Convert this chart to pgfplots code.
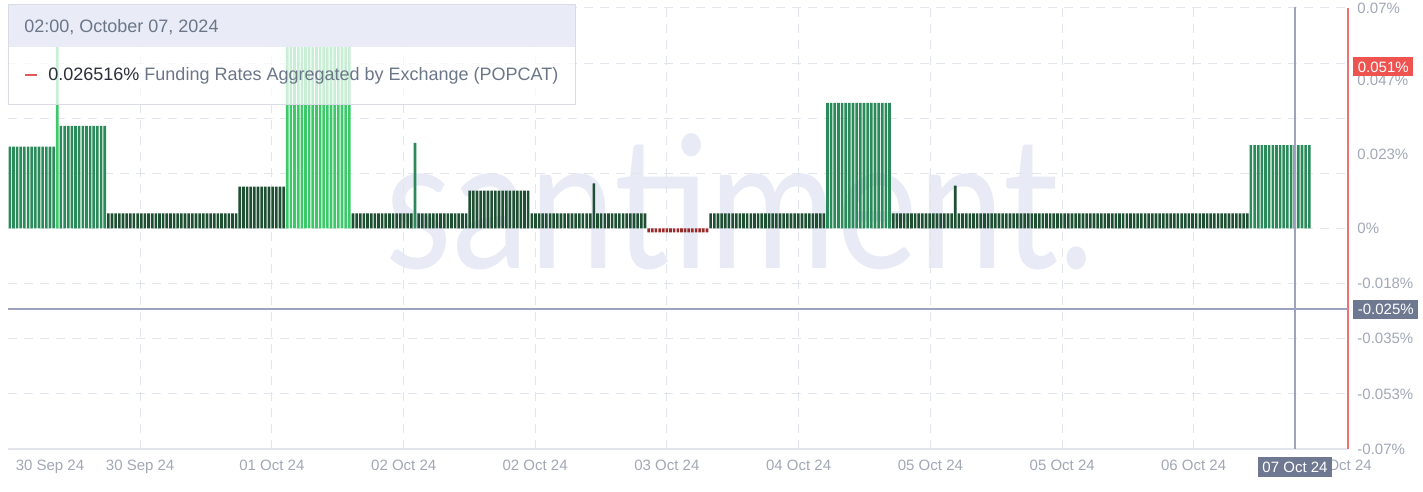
\documentclass[border=0pt]{standalone}
\usepackage{fontspec}
\setmainfont{Liberation Sans}
\newfontfamily\wmfont{Lato}
\usepackage{pgfplots}
\pgfplotsset{compat=1.18}

\definecolor{gdark}{HTML}{1E4F33}
\definecolor{gmid}{HTML}{2A8A5A}
\definecolor{glight}{HTML}{3DC86A}
\definecolor{rneg}{HTML}{9A2A2A}
\definecolor{gridc}{HTML}{E3E5EC}
\definecolor{labc}{HTML}{A2A8B6}
\definecolor{hair}{HTML}{9DA3BF}
\definecolor{tagc}{HTML}{6E7891}
\definecolor{redax}{HTML}{EE7070}
\definecolor{redtag}{HTML}{EF5350}
\definecolor{wmark}{HTML}{E8EBF5}
\definecolor{headc}{HTML}{E9ECF6}
\definecolor{boxline}{HTML}{D9DCE5}
\definecolor{legtxt}{HTML}{6C7689}
\definecolor{legdark}{HTML}{2B2F3A}
\definecolor{legred}{HTML}{E05A5A}

\begin{document}
\begin{tikzpicture}[x=0.5pt,y=-0.5pt]
\path[use as bounding box, fill=white] (0,0) rectangle (1423,492);
% watermark
\node[text=wmark, font=\wmfont\fontsize{92}{92}\selectfont, anchor=base west, inner sep=0pt]
  at (385,268) {\scalebox{0.84}[1]{santiment.}};

\begin{axis}[
  at={(4pt,-224.5pt)}, anchor=south west,
  scale only axis, width=670pt, height=220.5pt,
  xmin=-0.5, xmax=366.6, ymin=-0.07, ymax=0.07,
  axis x line*=bottom, axis y line*=right,
  x axis line style={gridc, line width=0.6pt},
  y axis line style={redax, line width=0.7pt},
  major tick length=0pt, minor tick length=0pt,
  tick style={draw=none},
  tick label style={font=\fontsize{7.5}{9}\selectfont, text=labc},
  xtick={35.7,71.8,107.9,143.9,180.0,216.1,252.2,288.3,324.3},
  xticklabels={30 Sep 24,01 Oct 24,02 Oct 24,02 Oct 24,03 Oct 24,04 Oct 24,05 Oct 24,05 Oct 24,06 Oct 24},
  extra x ticks={11.0,364.2}, extra x tick labels={30 Sep 24,07 Oct 24},
  extra x tick style={grid=none},
  xticklabel style={inner sep=0pt, yshift=-5.5pt},
  ytick={-0.07,-0.0525,-0.035,-0.0175,0,0.0235,0.047,0.07},
  yticklabels={-0.07\%,-0.053\%,-0.035\%,-0.018\%,0\%,0.023\%,0.047\%,0.07\%},
  yticklabel style={inner sep=0pt, xshift=4.5pt},
  minor ytick={-0.0525,-0.035,-0.0175,0,0.0175,0.035,0.0525,0.07},
  xmajorgrids=true, ymajorgrids=false, yminorgrids=true,
  major grid style={gridc, line width=0.5pt, dash pattern=on 4.5pt off 3.5pt},
  minor grid style={gridc, line width=0.5pt, dash pattern=on 4.5pt off 3.5pt},
  every axis plot/.append style={ybar, bar width=0.72, bar shift=0pt, draw=none},
]
% medium green
\addplot[fill=gmid] coordinates {
(0,0.026) (1,0.026) (2,0.026) (3,0.026) (4,0.026) (5,0.026) (6,0.026)
(7,0.026) (8,0.026) (9,0.026) (10,0.026) (11,0.026) (12,0.026)
(14,0.0326) (15,0.0326) (16,0.0326) (17,0.0326) (18,0.0326) (19,0.0326) (20,0.0326)
(21,0.0326) (22,0.0326) (23,0.0326) (24,0.0326) (25,0.0326) (26,0.0326)
(111,0.0272)
(224,0.0399) (225,0.0399) (226,0.0399) (227,0.0399) (228,0.0399) (229,0.0399)
(230,0.0399) (231,0.0399) (232,0.0399) (233,0.0399) (234,0.0399) (235,0.0399)
(236,0.0399) (237,0.0399) (238,0.0399) (239,0.0399) (240,0.0399) (241,0.0399)
(340,0.0265) (341,0.0265) (342,0.0265) (343,0.0265) (344,0.0265) (345,0.0265)
(346,0.0265) (347,0.0265) (348,0.0265) (349,0.0265) (350,0.0265) (351,0.0265)
(352,0.0265) (353,0.0265) (354,0.0265) (355,0.0265) (356,0.0265)
};
% light green
\addplot[fill=glight] coordinates {
(13,0.06)
(76,0.06) (77,0.06) (78,0.06) (79,0.06) (80,0.06) (81,0.06) (82,0.06) (83,0.06) (84,0.06)
(85,0.06) (86,0.06) (87,0.06) (88,0.06) (89,0.06) (90,0.06) (91,0.06) (92,0.06) (93,0.06)
};
% dark green
\addplot[fill=gdark] coordinates {
(27,0.0048) (28,0.0048) (29,0.0048) (30,0.0048) (31,0.0048) (32,0.0048) (33,0.0048) (34,0.0048) (35,0.0048)
(36,0.0048) (37,0.0048) (38,0.0048) (39,0.0048) (40,0.0048) (41,0.0048) (42,0.0048) (43,0.0048) (44,0.0048)
(45,0.0048) (46,0.0048) (47,0.0048) (48,0.0048) (49,0.0048) (50,0.0048) (51,0.0048) (52,0.0048) (53,0.0048)
(54,0.0048) (55,0.0048) (56,0.0048) (57,0.0048) (58,0.0048) (59,0.0048) (60,0.0048) (61,0.0048) (62,0.0048)
(63,0.0133) (64,0.0133) (65,0.0133) (66,0.0133) (67,0.0133) (68,0.0133) (69,0.0133)
(70,0.0133) (71,0.0133) (72,0.0133) (73,0.0133) (74,0.0133) (75,0.0133)
(94,0.0048) (95,0.0048) (96,0.0048) (97,0.0048) (98,0.0048) (99,0.0048) (100,0.0048) (101,0.0048) (102,0.0048)
(103,0.0048) (104,0.0048) (105,0.0048) (106,0.0048) (107,0.0048) (108,0.0048) (109,0.0048) (110,0.0048)
(112,0.0048) (113,0.0048) (114,0.0048) (115,0.0048) (116,0.0048) (117,0.0048) (118,0.0048)
(119,0.0048) (120,0.0048) (121,0.0048) (122,0.0048) (123,0.0048) (124,0.0048) (125,0.0048)
(126,0.012) (127,0.012) (128,0.012) (129,0.012) (130,0.012) (131,0.012) (132,0.012) (133,0.012) (134,0.012)
(135,0.012) (136,0.012) (137,0.012) (138,0.012) (139,0.012) (140,0.012) (141,0.012) (142,0.012)
(143,0.0048) (144,0.0048) (145,0.0048) (146,0.0048) (147,0.0048) (148,0.0048) (149,0.0048) (150,0.0048) (151,0.0048)
(152,0.0048) (153,0.0048) (154,0.0048) (155,0.0048) (156,0.0048) (157,0.0048) (158,0.0048) (159,0.0048)
(160,0.0143)
(161,0.0048) (162,0.0048) (163,0.0048) (164,0.0048) (165,0.0048) (166,0.0048) (167,0.0048)
(168,0.0048) (169,0.0048) (170,0.0048) (171,0.0048) (172,0.0048) (173,0.0048) (174,0.0048)
(192,0.0048) (193,0.0048) (194,0.0048) (195,0.0048) (196,0.0048) (197,0.0048) (198,0.0048) (199,0.0048)
(200,0.0048) (201,0.0048) (202,0.0048) (203,0.0048) (204,0.0048) (205,0.0048) (206,0.0048) (207,0.0048)
(208,0.0048) (209,0.0048) (210,0.0048) (211,0.0048) (212,0.0048) (213,0.0048) (214,0.0048) (215,0.0048)
(216,0.0048) (217,0.0048) (218,0.0048) (219,0.0048) (220,0.0048) (221,0.0048) (222,0.0048) (223,0.0048)
(242,0.0048) (243,0.0048) (244,0.0048) (245,0.0048) (246,0.0048) (247,0.0048) (248,0.0048) (249,0.0048) (250,0.0048)
(251,0.0048) (252,0.0048) (253,0.0048) (254,0.0048) (255,0.0048) (256,0.0048) (257,0.0048) (258,0.0048)
(259,0.0136)
(260,0.0048) (261,0.0048) (262,0.0048) (263,0.0048) (264,0.0048) (265,0.0048) (266,0.0048) (267,0.0048)
(268,0.0048) (269,0.0048) (270,0.0048) (271,0.0048) (272,0.0048) (273,0.0048) (274,0.0048) (275,0.0048)
(276,0.0048) (277,0.0048) (278,0.0048) (279,0.0048) (280,0.0048) (281,0.0048) (282,0.0048) (283,0.0048)
(284,0.0048) (285,0.0048) (286,0.0048) (287,0.0048) (288,0.0048) (289,0.0048) (290,0.0048) (291,0.0048)
(292,0.0048) (293,0.0048) (294,0.0048) (295,0.0048) (296,0.0048) (297,0.0048) (298,0.0048) (299,0.0048)
(300,0.0048) (301,0.0048) (302,0.0048) (303,0.0048) (304,0.0048) (305,0.0048) (306,0.0048) (307,0.0048)
(308,0.0048) (309,0.0048) (310,0.0048) (311,0.0048) (312,0.0048) (313,0.0048) (314,0.0048) (315,0.0048)
(316,0.0048) (317,0.0048) (318,0.0048) (319,0.0048) (320,0.0048) (321,0.0048) (322,0.0048) (323,0.0048)
(324,0.0048) (325,0.0048) (326,0.0048) (327,0.0048) (328,0.0048) (329,0.0048) (330,0.0048) (331,0.0048)
(332,0.0048) (333,0.0048) (334,0.0048) (335,0.0048) (336,0.0048) (337,0.0048) (338,0.0048) (339,0.0048)
};
% negative (red)
\addplot[fill=rneg] coordinates {
(175,-0.0012) (176,-0.0012) (177,-0.0012) (178,-0.0012) (179,-0.0012) (180,-0.0012)
(181,-0.0012) (182,-0.0012) (183,-0.0012) (184,-0.0012) (185,-0.0012) (186,-0.0012)
(187,-0.0012) (188,-0.0012) (189,-0.0012) (190,-0.0012) (191,-0.0012)
};
\end{axis}

% crosshair
\draw[hair, line width=0.6pt] (1295,7) -- (1295,449);
\draw[hair, line width=0.6pt] (8,309) -- (1348,309);
\node[fill=tagc, text=white, font=\fontsize{7.5}{9}\selectfont, anchor=west,
  inner xsep=2.2pt, inner ysep=0pt, minimum height=9.5pt] at (1353,309) {-0.025\%};
\node[fill=redtag, text=white, font=\fontsize{7.5}{9}\selectfont, anchor=west,
  inner xsep=2.2pt, inner ysep=0pt, minimum height=9.5pt] at (1353,67) {0.051\%};
\node[fill=tagc, text=white, font=\fontsize{7.5}{9}\selectfont,
  inner xsep=2pt, inner ysep=0pt, minimum height=10pt] at (1295,467) {07 Oct 24};

% legend box
\fill[white, opacity=0.72] (8,47) rectangle (575,105);
\fill[headc] (8,5) rectangle (575,47);
\draw[boxline, line width=0.5pt] (8,5) rectangle (575,105);
\node[anchor=base west, inner sep=0pt, text=legtxt, font=\fontsize{9}{11}\selectfont]
  at (24,33) {02:00, October 07, 2024};
\draw[legred, line width=1.3pt] (25,75) -- (37,75);
\node[anchor=base west, inner sep=0pt, font=\fontsize{9}{11}\selectfont]
  at (48,81) {\textcolor{legdark}{0.026516\%} \textcolor{legtxt}{Funding Rates Aggregated by Exchange (POPCAT)}};
\end{tikzpicture}
\end{document}
